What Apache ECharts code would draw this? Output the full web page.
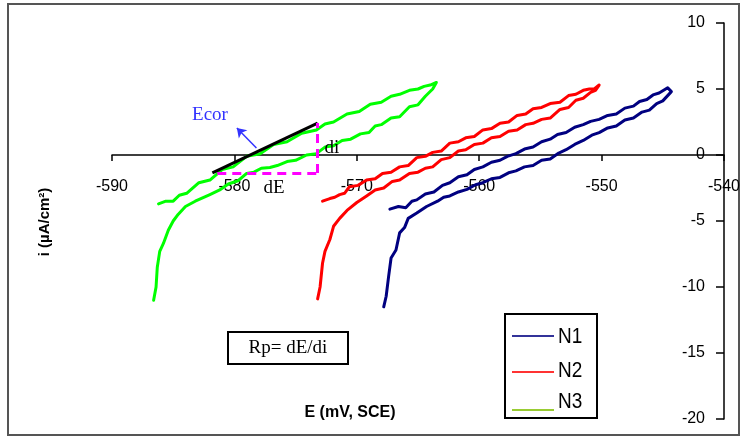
<!DOCTYPE html>
<html><head><meta charset="utf-8">
<script src="https://cdn.jsdelivr.net/npm/echarts@6/dist/echarts.min.js"></script>
<style>html,body{margin:0;padding:0;background:#fff}#c{width:742px;height:439px}</style>
</head><body><div id="c"></div>
<script>
// Axis ticks
var xTicks = [-590, -580, -570, -560, -550, -540];
var yTicks = [-20, -15, -10, -5, 0, 5, 10];
var seriesNames = ['N1', 'N2', 'N3'];

// N1 (E mV, i uA/cm2): forward scan then reverse scan
var n1 = [[-567.8,-11.5],[-567.6,-10.7],[-567.4,-9.2],[-567.2,-7.8],[-566.8,-7.2],[-566.5,-5.9],[-566.1,-5.5],[-565.8,-4.8],[-565.1,-4.4],[-564.3,-3.9],
 [-563.4,-3.5],[-562.9,-3.2],[-562.4,-3.1],[-561.7,-2.8],[-561.0,-2.6],[-560.3,-2.25],[-559.7,-2.1],[-559.0,-1.8],[-558.3,-1.7],[-557.6,-1.35],[-557.0,-1.2],[-556.3,-0.9],[-555.6,-0.8],[-554.9,-0.4],[-554.2,-0.3],[-553.5,0.15],[-552.9,0.4],[-552.2,0.8],[-551.5,1.1],[-550.8,1.5],[-550.2,1.7],[-549.5,2.05],[-548.8,2.2],[-548.1,2.65],[-547.4,2.8],[-546.7,3.25],[-546.1,3.4],[-545.5,3.9],[-545.0,4.1],[-544.3,4.8],
 [-544.6,5.1],[-545.3,4.7],[-545.8,4.55],[-546.3,4.2],[-546.9,4.05],[-547.4,3.7],[-548.1,3.55],[-548.8,3.1],[-549.5,3.0],[-550.2,2.7],[-550.9,2.55],[-551.5,2.3],[-552.2,2.1],[-552.9,1.7],[-553.6,1.55],[-554.2,1.2],[-554.9,1.0],[-555.6,0.6],[-556.3,0.45],[-557.0,0.1],[-557.7,-0.1],[-558.3,-0.4],[-559.0,-0.55],[-559.7,-0.9],[-560.4,-1.1],[-561.0,-1.5],[-561.7,-1.65],[-562.4,-2.1],[-563.0,-2.3],[-563.7,-2.8],[-564.4,-2.95],[-565.1,-3.4],[-565.5,-3.5],[-566.0,-4.0],[-566.6,-3.9],[-567.3,-4.1]];
// N2
var n2 = [[-573.2,-10.9],[-573.0,-10.0],[-572.8,-8.2],[-572.6,-7.3],[-572.2,-6.4],[-571.9,-5.4],[-571.4,-4.8],[-570.8,-4.2],[-570.0,-3.6],
 [-569.2,-3.1],[-568.5,-2.65],[-567.8,-2.5],[-567.1,-2.0],[-566.5,-1.9],[-565.7,-1.4],[-565.0,-1.3],[-564.4,-1.0],[-563.8,-0.9],[-563.1,-0.35],[-562.4,-0.2],[-561.7,0.3],[-561.1,0.4],[-560.4,0.8],[-559.7,0.9],[-559.0,1.3],[-558.3,1.4],[-557.6,1.8],[-556.9,1.9],[-556.2,2.3],[-555.6,2.4],[-554.9,2.7],[-554.2,2.8],[-553.4,3.45],[-552.7,3.6],[-552.1,4.15],[-551.5,4.3],[-550.9,4.75],[-550.5,4.9],[-550.2,5.3],
 [-550.6,5.0],[-551.0,5.0],[-551.5,4.9],[-552.1,4.6],[-552.7,4.5],[-553.4,4.0],[-554.2,3.9],[-554.9,3.6],[-555.6,3.5],[-556.2,3.1],[-556.9,3.0],[-557.6,2.5],[-558.3,2.4],[-559.0,2.0],[-559.7,1.9],[-560.4,1.4],[-561.1,1.3],[-561.7,1.0],[-562.4,0.9],[-563.1,0.3],[-563.8,0.2],[-564.4,-0.1],[-565.1,-0.2],[-565.8,-0.8],[-566.5,-0.9],[-567.2,-1.3],[-567.9,-1.4],[-568.5,-1.8],[-569.2,-1.9],[-569.9,-2.3],[-570.6,-2.4],[-571.0,-2.9],[-571.4,-3.0],[-571.8,-3.2],[-572.2,-3.3],[-572.8,-3.5]];
// N3
var n3 = [[-586.6,-11.0],[-586.4,-10.0],[-586.3,-8.5],[-586.1,-7.3],[-585.8,-6.7],[-585.4,-5.7],[-585.0,-5.0],[-584.6,-4.5],[-584.0,-3.9],[-583.2,-3.5],
 [-582.0,-3.0],[-581.2,-2.65],[-580.5,-2.2],[-579.7,-1.95],[-579.0,-1.4],[-578.4,-1.3],[-577.8,-1.0],[-577.1,-0.95],[-576.5,-0.8],[-575.7,-0.5],[-575.0,-0.4],[-574.1,0.0],[-573.3,0.1],[-572.6,0.6],[-571.9,0.7],[-571.2,1.1],[-570.5,1.2],[-569.7,1.6],[-569.0,1.7],[-568.5,2.2],[-568.0,2.3],[-567.2,2.8],[-566.5,2.9],[-565.7,3.65],[-565.0,3.8],[-564.4,4.45],[-563.8,5.0],[-563.5,5.5],
 [-564.0,5.3],[-564.5,5.2],[-565.0,5.0],[-565.7,4.9],[-566.5,4.6],[-567.2,4.45],[-568.0,4.0],[-568.9,3.85],[-569.8,3.3],[-570.8,3.1],[-571.9,2.5],[-572.6,2.35],[-573.3,1.9],[-574.5,1.65],[-575.7,1.0],[-576.8,0.8],[-577.9,0.1],[-579.0,-0.1],[-580.1,-0.9],[-581.0,-1.1],[-582.0,-1.9],[-582.9,-2.1],[-583.9,-2.9],[-584.5,-3.05],[-585.0,-3.5],[-585.6,-3.5],[-586.2,-3.7]];

// Rp annotation geometry (data coordinates)
var tangentLine = [[-581.8,-1.36],[-573.2,2.42]];
var dELine = [[-581.4,-1.36],[-573.2,-1.36]];
var diLine = [[-573.2,-1.36],[-573.2,2.42]];
var ecorArrow = [[-578.2,0.53],[-579.8,2.05]];

var chart = echarts.init(document.getElementById('c'), null, {renderer:'canvas'});
var F = 'Liberation Sans, Arial, sans-serif';
var S = 'Liberation Serif, Times New Roman, serif';
function ml(pts, color, width, type, sym){
  return {silent:true, symbol: sym || ['none','none'], symbolSize: 9, label:{show:false},
    lineStyle:{color:color, width:width, type:type||'solid'},
    data:[[{coord:pts[0]},{coord:pts[1]}]], animation:false};
}
var colors = ['#000080','#ff0000','#00ff00'];
var datas = [n1, n2, n3];
var series = seriesNames.map(function(n, k){
  return {name:n, type:'line', data:datas[k], showSymbol:false, symbol:'none',
    lineStyle:{color:colors[k], width:3, join:'round', cap:'round'}, z:3, animation:false};
});
series.push({type:'line', data:[], markLine: ml(tangentLine,'#000',3), z:5});
series.push({type:'line', data:[], markLine: ml(dELine,'#ff00ff',3,[9,6]), z:5});
series.push({type:'line', data:[], markLine: ml(diLine,'#ff00ff',3,[9,6]), z:5});
series.push({type:'line', data:[], markLine: ml(ecorArrow,'#3333ff',1.5,'solid',['none','arrow']), z:5});

var gridTop = 23, gridBottom = 20, H = 439;
var plotH = H - gridTop - gridBottom;
var zeroOffset = -plotH * (0 - (-20)) / (10 - (-20)); // lift x axis to i = 0

function legendText(t, y){
  return {type:'text', x:558, y:y, scaleY:1.2, style:{text:t, font:'19px '+F, fill:'#000', textVerticalAlign:'middle'}, z:11};
}

chart.setOption({
  animation:false,
  backgroundColor:'#fff',
  grid:{left:112, right:18, top:gridTop, bottom:gridBottom, containLabel:false, outerBoundsMode:'none'},
  xAxis:{type:'value', min:-590, max:-540, interval:10, offset: zeroOffset,
    axisLine:{onZero:false, lineStyle:{color:'#000', width:1.5}},
    axisTick:{length:6, lineStyle:{color:'#000', width:1.5}},
    axisLabel:{margin:24, color:'#000', fontFamily:F, fontSize:16},
    splitLine:{show:false}},
  yAxis:{type:'value', position:'right', min:-20, max:10, interval:5,
    axisLine:{show:true, onZero:false, lineStyle:{color:'#000', width:1.5}},
    axisTick:{show:true, inside:true, length:8, lineStyle:{color:'#000', width:1.5}},
    axisLabel:{inside:true, margin:19, color:'#000', fontFamily:F, fontSize:16},
    splitLine:{show:false}},
  series: series,
  graphic:[
    {type:'rect', shape:{x:8, y:4, width:731, height:431}, style:{fill:'none', stroke:'#555', lineWidth:2}, silent:true, z:0},
    {type:'text', x:45, y:222, rotation:Math.PI/2, style:{text:'i (µA/cm²)', font:'bold 15px '+F, fill:'#000', textAlign:'center', textVerticalAlign:'middle'}},
    {type:'text', x:350, y:413, style:{text:'E (mV, SCE)', font:'bold 16px '+F, fill:'#000', textAlign:'center', textVerticalAlign:'middle'}},
    {type:'text', x:210, y:115, style:{text:'Ecor', font:'19px '+S, fill:'#3333ff', textAlign:'center', textVerticalAlign:'middle'}, z:10},
    {type:'text', x:274, y:188, style:{text:'dE', font:'19px '+S, fill:'#000', textAlign:'center', textVerticalAlign:'middle'}, z:10},
    {type:'text', x:332, y:148, style:{text:'di', font:'19px '+S, fill:'#000', textAlign:'center', textVerticalAlign:'middle'}, z:10},
    {type:'rect', shape:{x:228, y:332, width:120, height:32}, style:{fill:'#fff', stroke:'#000', lineWidth:2}, z:10},
    {type:'text', x:288, y:348, style:{text:'Rp= dE/di', font:'19px '+S, fill:'#000', textAlign:'center', textVerticalAlign:'middle'}, z:11},
    {type:'rect', shape:{x:505, y:314, width:92, height:104}, style:{fill:'#fff', stroke:'#000', lineWidth:2}, z:10},
    {type:'line', shape:{x1:512, y1:336, x2:554, y2:336}, style:{stroke:'#333399', lineWidth:2}, z:11},
    {type:'line', shape:{x1:512, y1:372, x2:554, y2:372}, style:{stroke:'#ff3333', lineWidth:2}, z:11},
    {type:'line', shape:{x1:512, y1:410, x2:554, y2:410}, style:{stroke:'#99cc33', lineWidth:2}, z:11},
    legendText('N1', 337), legendText('N2', 371), legendText('N3', 402)
  ]
});
</script></body></html>
